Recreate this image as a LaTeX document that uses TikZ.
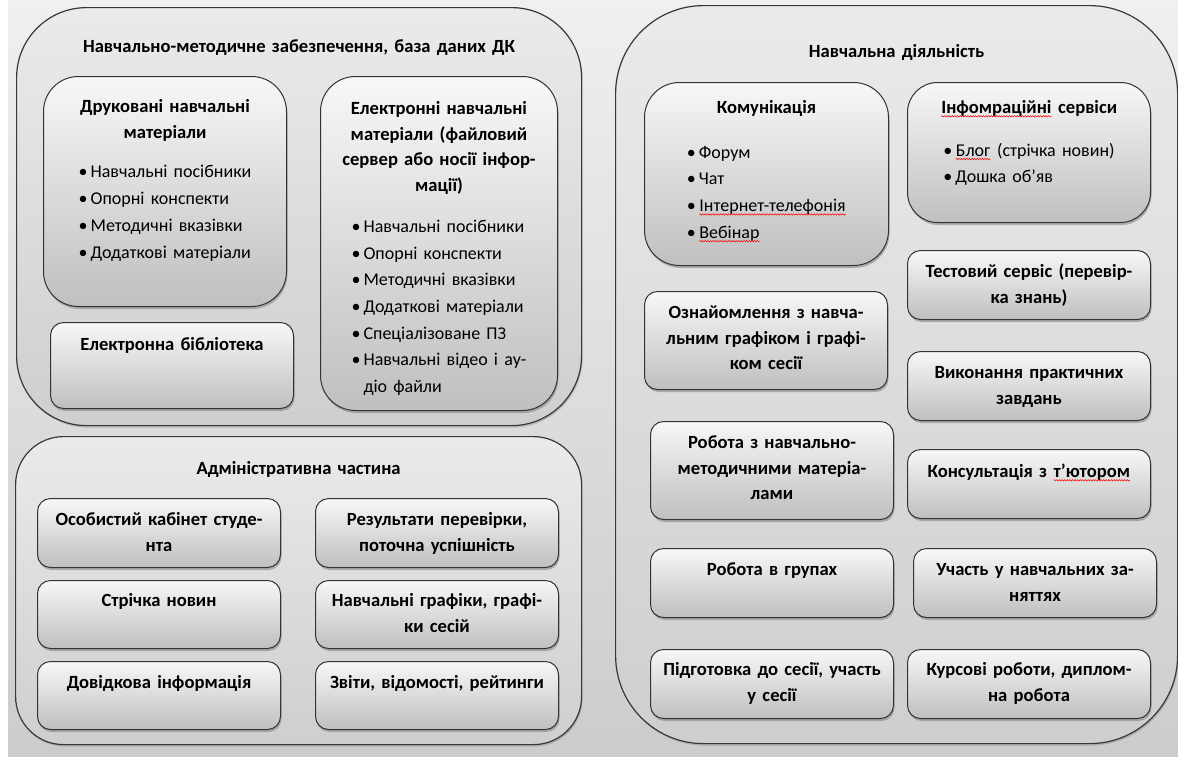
\documentclass[tikz,border=0pt]{standalone}
\usepackage{fontspec}
\setmainfont{Carlito}
\usetikzlibrary{shadows,decorations.pathmorphing}

\renewcommand{\arraystretch}{1.04}
\newcommand{\spellchk}[1]{\tikz[baseline=(sp.base)]{\node[inner sep=0pt, font=] (sp) {#1};
  \draw[red, sharp corners, line width=.5pt, decorate, decoration={snake, amplitude=.7pt, segment length=2.6pt}]
    ([yshift=-2.8pt]sp.base west) -- ([yshift=-2.8pt]sp.base east);}}
\newcommand{\bul}{\makebox[12pt][l]{•}}
\newcommand{\lst}{\fontsize{18}{25.7}\selectfont\mdseries}

\begin{document}
\begin{tikzpicture}[x=1pt,y=-1pt,
  font=\fontsize{18.6}{25.7}\selectfont\bfseries,
  bigbox/.style={draw=black!78, line width=1.2pt, rounded corners=#1,
    top color=black!8, bottom color=black!19,
    drop shadow={shadow xshift=1pt, shadow yshift=-2pt, opacity=.4},
    inner sep=0pt, anchor=north west, align=center},
  itembox/.style={draw=black!80, line width=1pt, rounded corners=13pt,
    top color=black!3, bottom color=black!25,
    drop shadow={shadow xshift=1pt, shadow yshift=-2.5pt, opacity=.55},
    inner sep=0pt, anchor=north west, align=center,
    text width=243pt, text height=27pt, text depth=42pt}]
\useasboundingbox (0,0) rectangle (1178,756);
\fill[white] (0,0) rectangle (1178,756);
\shade[top color=black!6, bottom color=black!20] (8,0) rectangle (1178,756);

% outer parts
\node[bigbox=70pt, text width=565pt, text height=45pt, text depth=373pt] (nmz) at (16,7)
  {Навчально-методичне забезпечення, база даних ДК};
\node[bigbox=48pt, text width=566pt, text height=38pt, text depth=270pt] (admin) at (15,436)
  {Адміністративна частина};
\node[bigbox=88pt, text width=562pt, text height=52pt, text depth=686pt] (diyal) at (615,5)
  {Навчальна діяльність};

\node[itembox, rounded corners=35pt, text height=36pt, text depth=194pt] (druk) at (43,76)
  {Друковані навчальні\\ матеріали\\[14pt]
   {\lst\begin{tabular}[t]{@{}l@{}}
   \bul Навчальні посібники\\
   \bul Опорні конспекти\\
   \bul Методичні вказівки\\
   \bul Додаткові матеріали
   \end{tabular}}};
\node[itembox, rounded corners=35pt, text width=237pt, text height=38pt, text depth=296pt] (elek) at (320,76)
  {Електронні навчальні\\ матеріали (файловий\\ сервер або носії інфор-\\ мації)\\[15pt]
   {\lst\begin{tabular}[t]{@{}l@{}}
   \bul Навчальні посібники\\
   \bul Опорні конспекти\\
   \bul Методичні вказівки\\
   \bul Додаткові матеріали\\
   \bul Спеціалізоване ПЗ\\
   \bul Навчальні відео і ау-\\
   \makebox[12pt]{}діо файли
   \end{tabular}}};
\node[itembox, text height=28pt, text depth=58pt] (bibl) at (50,322) {Електронна бібліотека};

\node[itembox] (osob) at (37,498) {Особистий кабінет студе-\\ нта};
\node[itembox] (rezult) at (315,498) {Результати перевірки,\\ поточна успішність};
\node[itembox, text height=26pt] (strichka) at (37,580) {Стрічка новин};
\node[itembox, text height=26pt] (grafiky) at (315,580) {Навчальні графіки, графі-\\ ки сесій};
\node[itembox, text depth=41pt] (dovid) at (37,661) {Довідкова інформація};
\node[itembox, text depth=41pt] (zvity) at (315,661) {Звіти, відомості, рейтинги};

\node[itembox, rounded corners=35pt, text width=244pt, text height=31pt, text depth=152pt] (komun) at (644,82)
  {Комунікація\\[19pt]
   {\lst\begin{tabular}[t]{@{}l@{}}
   \bul Форум\\
   \bul Чат\\
   \bul \spellchk{Інтернет-телефонія}\\
   \bul \spellchk{Вебінар}
   \end{tabular}}};
\node[itembox, rounded corners=30pt, text height=31pt, text depth=109pt] (inform) at (907,82)
  {\spellchk{Інфомраційні} сервіси\\[17pt]
   {\lst\begin{tabular}[t]{@{}l@{}}
   \bul \spellchk{Блог} (стрічка новин)\\
   \bul Дошка об’яв
   \end{tabular}}};
\node[itembox] (test) at (907,250) {Тестовий сервіс (перевір-\\ ка знань)};
\node[itembox, text depth=71pt] (oznaiom) at (644,291) {Ознайомлення з навча-\\ льним графіком і графі-\\ ком сесії};
\node[itembox] (vykon) at (907,351) {Виконання практичних\\ завдань};
\node[itembox, text depth=71pt] (robota) at (650,421) {Робота з навчально-\\ методичними матеріа-\\ лами};
\node[itembox, text height=28pt, text depth=41pt] (konsult) at (907,449) {Консультація з \spellchk{т’ютором}};
\node[itembox] (grupy) at (650,548) {Робота в групах};
\node[itembox] (uchast) at (913,548) {Участь у навчальних за-\\ няттях};
\node[itembox, text height=26pt, text depth=43pt] (pidgot) at (650,649) {Підготовка до сесії, участь\\ у сесії};
\node[itembox, text height=26pt, text depth=43pt] (kursovi) at (907,649) {Курсові роботи, диплом-\\ на робота};
\end{tikzpicture}
\end{document}
